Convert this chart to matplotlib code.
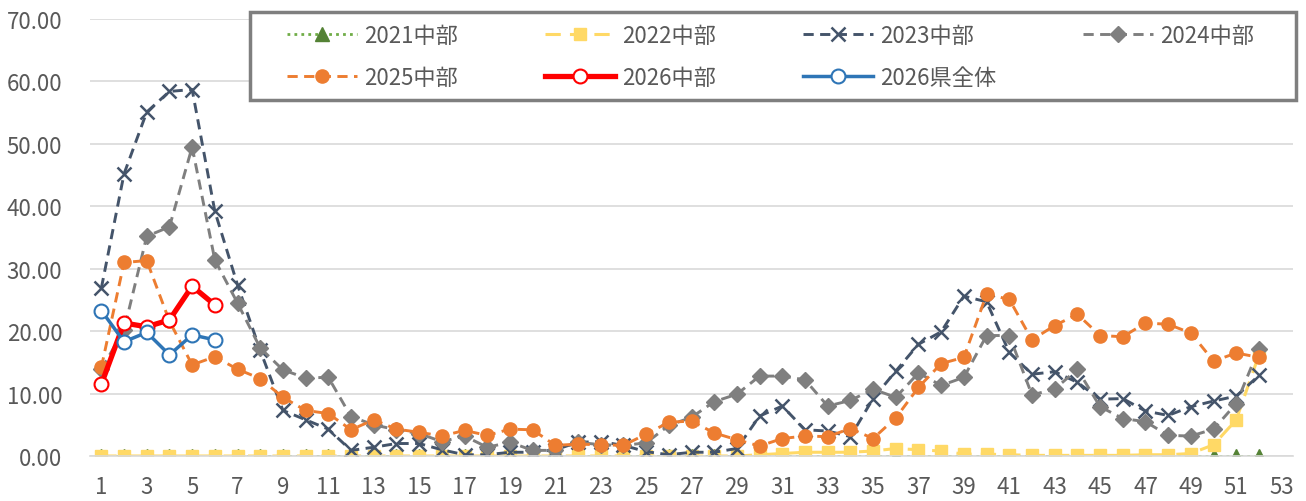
import matplotlib
matplotlib.use("Agg")
import matplotlib.pyplot as plt
from matplotlib.patches import Rectangle

plt.rcParams['font.family'] = ['Noto Sans CJK JP', 'DejaVu Sans']

weeks = list(range(1, 53))

y2021 = [0.0, 0.0, 0.0, 0.0, 0.0, 0.0, 0.0, 0.0, 0.0, 0.0, 0.0, 0.0, 0.0,
         0.0, 0.0, 0.0, 0.0, 0.0, 0.0, 0.0, 0.0, 0.0, 0.0, 0.0, 0.0, 0.0,
         0.0, 0.0, 0.0, 0.0, 0.0, 0.0, 0.0, 0.0, 0.0, 0.0, 0.0, 0.0, 0.0,
         0.0, 0.0, 0.0, 0.0, 0.0, 0.0, 0.0, 0.0, 0.0, 0.0, 0.0, 0.0, 0.0]

y2022 = [0.0, 0.0, 0.0, 0.0, 0.0, 0.0, 0.0, 0.0, 0.0, 0.0, 0.0, 0.0, 0.0,
         0.0, 0.0, 0.0, 0.0, 0.0, 0.0, 0.0, 0.0, 0.0, 0.0, 0.0, 0.0, 0.0,
         0.0, 0.0, 0.0, 0.2, 0.4, 0.6, 0.6, 0.6, 0.8, 1.2, 1.0, 0.8, 0.3,
         0.3, 0.2, 0.1, 0.1, 0.1, 0.1, 0.1, 0.2, 0.2, 0.4, 1.8, 5.8, 16.2]

y2023 = [26.9, 45.2, 55.1, 58.4, 58.7, 39.2, 27.4, 16.9, 7.3, 5.8, 4.3, 0.9, 1.4,
         2.0, 2.0, 1.0, 0.2, 0.2, 0.6, 0.6, 1.0, 2.2, 2.3, 1.7, 0.7, 0.2,
         0.6, 0.6, 1.2, 6.4, 8.0, 4.2, 4.0, 3.1, 9.2, 13.6, 17.9, 19.9, 25.6,
         24.7, 16.6, 13.1, 13.5, 11.8, 9.1, 9.2, 7.2, 6.5, 7.9, 8.8, 9.6, 12.9]

y2024 = [13.9, 20.2, 35.2, 36.7, 49.5, 31.4, 24.5, 17.3, 13.8, 12.5, 12.6, 6.3, 5.0,
         4.2, 3.6, 2.3, 3.2, 1.4, 2.2, 0.9, 0.9, 2.2, 1.8, 1.7, 2.1, 4.9,
         6.2, 8.7, 9.9, 12.8, 12.8, 12.2, 8.0, 8.9, 10.7, 9.4, 13.3, 11.3, 12.6,
         19.3, 19.3, 9.8, 10.7, 13.9, 7.9, 6.0, 5.5, 3.3, 3.2, 4.3, 8.4, 17.2]

y2025 = [14.2, 31.0, 31.3, 21.6, 14.6, 15.9, 13.9, 12.4, 9.4, 7.3, 6.8, 4.2, 5.8,
         4.3, 3.8, 3.2, 4.1, 3.3, 4.3, 4.2, 1.7, 1.9, 1.8, 1.7, 3.5, 5.4,
         5.6, 3.7, 2.6, 1.6, 2.8, 3.2, 3.1, 4.4, 2.8, 6.1, 11.0, 14.8, 15.8,
         25.9, 25.1, 18.6, 20.9, 22.7, 19.3, 19.1, 21.3, 21.1, 19.7, 15.2, 16.5, 15.8]

weeks_2026 = [1, 2, 3, 4, 5, 6]
y2026_chubu = [11.5, 21.3, 20.7, 21.8, 27.2, 24.2]
y2026_ken = [23.3, 18.3, 19.8, 16.2, 19.4, 18.6]

W, H = 1306, 502
fig = plt.figure(figsize=(W / 100, H / 100), dpi=100)
ax = fig.add_axes([90 / W, 45 / H, 1203 / W, 437 / H])

# 過去シーズン
l21, = ax.plot(weeks, y2021, color='#70AD47', lw=2.0, dashes=(1, 1.5),
               marker='^', ms=10, mfc='#548235', mec='#548235', label='2021中部')
l22, = ax.plot(weeks, y2022, color='#FFD966', lw=2.2, dashes=(5, 3),
               marker='s', ms=9, mfc='#FFD966', mec='#FFD966', label='2022中部')
l23, = ax.plot(weeks, y2023, color='#44546A', lw=2.1, dashes=(3.5, 2.2),
               marker='x', ms=9.5, mew=1.8, label='2023中部')
l24, = ax.plot(weeks, y2024, color='#7F7F7F', lw=2.1, dashes=(3.5, 2.2),
               marker='D', ms=8, mfc='#7F7F7F', mec='#7F7F7F', label='2024中部')
l25, = ax.plot(weeks, y2025, color='#ED7D31', lw=2.1, dashes=(3.5, 2.2),
               marker='o', ms=9.5, mfc='#ED7D31', mec='#ED7D31', label='2025中部')

# 今シーズン
l26, = ax.plot(weeks_2026, y2026_chubu, color='#FF0000', lw=3.8,
               marker='o', ms=10, mfc='white', mec='#FF0000', mew=1.5, label='2026中部')
lken, = ax.plot(weeks_2026, y2026_ken, color='#2E75B6', lw=2.5,
                marker='o', ms=10, mfc='white', mec='#2E75B6', mew=1.5, label='2026県全体')

ax.set_xlim(0.5, 53.5)
ax.set_ylim(0, 70)
ax.set_xticks(list(range(1, 54, 2)))
ax.set_yticks([0, 10, 20, 30, 40, 50, 60, 70])
ax.set_yticklabels(['%.2f' % v for v in [0, 10, 20, 30, 40, 50, 60, 70]])
ax.tick_params(length=0, labelsize=16, colors='#595959')
ax.tick_params(axis='x', pad=14)
ax.tick_params(axis='y', pad=20)
ax.grid(axis='y', color='#D9D9D9', lw=1.2)
ax.set_axisbelow(True)
for s in ['top', 'right', 'left']:
    ax.spines[s].set_visible(False)
ax.spines['bottom'].set_color('#D9D9D9')
ax.spines['bottom'].set_linewidth(1.2)

# 凡例の枠 (Excel風に余白を持たせるため別に描く)
fig.patches.append(Rectangle((250 / W, 1 - 101 / H), 1046 / W, 88 / H,
                             transform=fig.transFigure, facecolor='white',
                             edgecolor='#7F7F7F', lw=2.5, zorder=5))

# 凡例は行順に並べる (matplotlibは列順で詰めるので並べ替え)
handles = [l21, l25, l22, l26, l23, lken, l24]
leg = fig.legend(handles, [h.get_label() for h in handles], ncol=4,
                 loc='center', mode='expand',
                 bbox_to_anchor=(287 / W, 1 - 77.5 / H, 967 / W, 40 / H),
                 frameon=False, fontsize=16, handlelength=3.15,
                 handletextpad=0.32, labelspacing=0.87,
                 borderpad=0, borderaxespad=0)
leg.set_zorder(6)
for t in leg.get_texts():
    t.set_color('#595959')

fig.savefig('out.png', dpi=100)
